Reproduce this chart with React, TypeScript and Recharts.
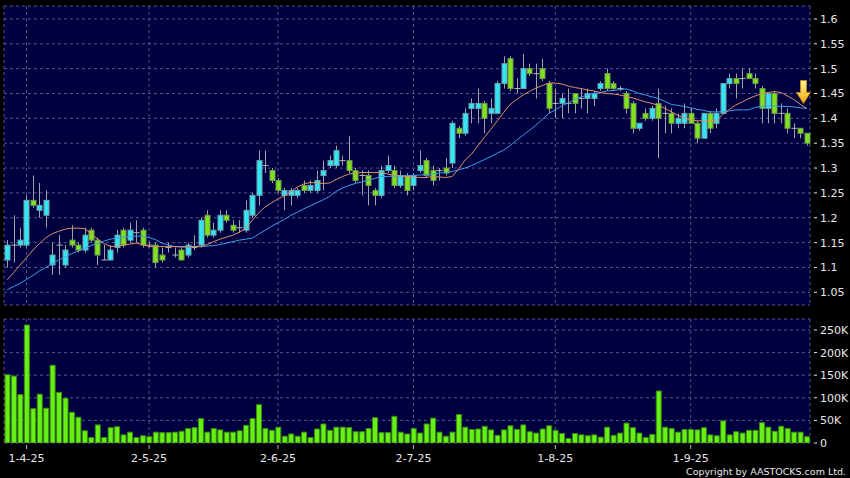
import React from 'react';
import { ComposedChart, Bar, Line, XAxis, YAxis, CartesianGrid, ReferenceDot } from 'recharts';

const NAVY = '#000040';
const GRID = '#55558c';
const TEXT = '#e6e6e6';
const CYAN = '#33e4f2';
const GREEN = '#80e11f';
const FONT = '"DejaVu Sans", Verdana, sans-serif';

// daily candles, 27-3-25 .. 25-9-25
const opens = [
  1.115, 1.145, 1.145, 1.145, 1.235, 1.215, 1.205, 1.105, 1.145, 1.105,
  1.155, 1.145, 1.135, 1.175, 1.155, 1.115, 1.115, 1.14, 1.175, 1.155,
  1.17, 1.175, 1.145, 1.145, 1.125, 1.14, 1.125, 1.135, 1.125, 1.14,
  1.145, 1.205, 1.165, 1.175, 1.205, 1.185, 1.18, 1.175, 1.205, 1.245,
  1.305, 1.295, 1.275, 1.245, 1.245, 1.245, 1.265, 1.255, 1.255, 1.285,
  1.305, 1.305, 1.315, 1.315, 1.295, 1.285, 1.285, 1.255, 1.245, 1.295,
  1.295, 1.265, 1.285, 1.265, 1.295, 1.315, 1.295, 1.295, 1.3, 1.31,
  1.38, 1.37, 1.42, 1.42, 1.43, 1.41, 1.41, 1.47, 1.52, 1.46,
  1.46, 1.5, 1.49, 1.5, 1.47, 1.43, 1.43, 1.43, 1.45, 1.44,
  1.44, 1.44, 1.46, 1.49, 1.47, 1.46, 1.45, 1.43, 1.38, 1.41,
  1.4, 1.43, 1.41, 1.41, 1.39, 1.39, 1.41, 1.39, 1.36, 1.41,
  1.39, 1.41, 1.47, 1.48, 1.48, 1.49, 1.48, 1.46, 1.42, 1.45,
  1.41, 1.41, 1.38, 1.38, 1.37,
];
const highs = [
  1.155, 1.205, 1.18, 1.245, 1.285, 1.27, 1.255, 1.15, 1.165, 1.145,
  1.185, 1.15, 1.18, 1.18, 1.16, 1.145, 1.145, 1.175, 1.18, 1.19,
  1.195, 1.18, 1.15, 1.15, 1.14, 1.15, 1.14, 1.14, 1.15, 1.165,
  1.2, 1.215, 1.19, 1.215, 1.215, 1.195, 1.195, 1.235, 1.25, 1.335,
  1.335, 1.3, 1.28, 1.26, 1.26, 1.26, 1.275, 1.275, 1.295, 1.315,
  1.325, 1.345, 1.325, 1.365, 1.3, 1.295, 1.295, 1.26, 1.305, 1.325,
  1.305, 1.295, 1.29, 1.29, 1.335, 1.32, 1.305, 1.3, 1.32, 1.395,
  1.385, 1.42, 1.44, 1.46, 1.435, 1.44, 1.475, 1.525, 1.525, 1.48,
  1.53, 1.51, 1.51, 1.52, 1.475, 1.46, 1.45, 1.46, 1.45, 1.46,
  1.46, 1.455, 1.475, 1.5, 1.475, 1.465, 1.455, 1.435, 1.39, 1.42,
  1.425, 1.46, 1.425, 1.42, 1.41, 1.43, 1.42, 1.395, 1.41, 1.415,
  1.42, 1.47, 1.49, 1.49, 1.5, 1.5, 1.49, 1.465, 1.45, 1.455,
  1.43, 1.42, 1.39, 1.38, 1.37,
];
const lows = [
  1.1, 1.11, 1.14, 1.14, 1.22, 1.2, 1.18, 1.085, 1.085, 1.1,
  1.14, 1.13, 1.13, 1.15, 1.105, 1.115, 1.115, 1.13, 1.14, 1.15,
  1.15, 1.14, 1.14, 1.1, 1.11, 1.13, 1.12, 1.115, 1.12, 1.135,
  1.14, 1.16, 1.16, 1.17, 1.19, 1.17, 1.17, 1.17, 1.2, 1.225,
  1.29, 1.27, 1.25, 1.215, 1.225, 1.24, 1.25, 1.25, 1.25, 1.255,
  1.3, 1.3, 1.305, 1.29, 1.27, 1.245, 1.225, 1.225, 1.24, 1.29,
  1.26, 1.26, 1.245, 1.255, 1.29, 1.28, 1.265, 1.275, 1.285, 1.3,
  1.36, 1.365, 1.39, 1.39, 1.37, 1.39, 1.41, 1.46, 1.455, 1.45,
  1.46, 1.485, 1.44, 1.475, 1.41, 1.4, 1.4, 1.41, 1.41, 1.42,
  1.41, 1.425, 1.455, 1.455, 1.455, 1.455, 1.41, 1.37, 1.375, 1.395,
  1.395, 1.32, 1.37, 1.37, 1.38, 1.38, 1.39, 1.35, 1.36, 1.37,
  1.38, 1.41, 1.46, 1.44, 1.46, 1.48, 1.46, 1.39, 1.39, 1.39,
  1.39, 1.37, 1.36, 1.36, 1.345,
];
const closes = [
  1.145, 1.145, 1.155, 1.235, 1.225, 1.225, 1.235, 1.125, 1.145, 1.135,
  1.145, 1.135, 1.165, 1.155, 1.125, 1.115, 1.135, 1.165, 1.145, 1.175,
  1.17, 1.145, 1.145, 1.11, 1.115, 1.14, 1.125, 1.115, 1.145, 1.14,
  1.195, 1.165, 1.175, 1.205, 1.195, 1.175, 1.18, 1.215, 1.245, 1.315,
  1.305, 1.275, 1.255, 1.255, 1.255, 1.255, 1.255, 1.265, 1.275, 1.295,
  1.315, 1.335, 1.315, 1.295, 1.275, 1.285, 1.265, 1.245, 1.295, 1.305,
  1.265, 1.285, 1.255, 1.285, 1.305, 1.285, 1.275, 1.295, 1.29, 1.39,
  1.37, 1.41, 1.43, 1.43, 1.4, 1.42, 1.47, 1.51, 1.46, 1.46,
  1.5, 1.49, 1.49, 1.48, 1.42, 1.43, 1.44, 1.43, 1.43, 1.44,
  1.45, 1.45, 1.47, 1.46, 1.46, 1.46, 1.42, 1.38, 1.39, 1.4,
  1.42, 1.4, 1.41, 1.39, 1.4, 1.41, 1.39, 1.36, 1.41, 1.38,
  1.41, 1.47, 1.48, 1.47, 1.48, 1.48, 1.47, 1.42, 1.45, 1.41,
  1.41, 1.38, 1.38, 1.37, 1.35,
];
// moving averages as drawn (orange 10-day, blue 20-day)
const ma10 = [
  1.075, 1.09, 1.105, 1.12, 1.135, 1.148, 1.16, 1.168, 1.173, 1.177,
  1.179, 1.179, 1.178, 1.168, 1.157, 1.148, 1.142, 1.143, 1.145, 1.147,
  1.149, 1.146, 1.142, 1.142, 1.142, 1.142, 1.142, 1.142, 1.142, 1.142,
  1.142, 1.146, 1.152, 1.157, 1.161, 1.165, 1.171, 1.179, 1.195, 1.21,
  1.222, 1.23, 1.238, 1.244, 1.252, 1.262, 1.268, 1.271, 1.27, 1.269,
  1.27, 1.277, 1.283, 1.288, 1.29, 1.291, 1.291, 1.291, 1.291, 1.288,
  1.285, 1.284, 1.283, 1.282, 1.281, 1.281, 1.283, 1.282, 1.281, 1.283,
  1.298, 1.316, 1.328, 1.345, 1.362, 1.378, 1.395, 1.412, 1.428, 1.438,
  1.447, 1.454, 1.461, 1.466, 1.471, 1.471, 1.469, 1.465, 1.462, 1.46,
  1.457, 1.455, 1.452, 1.45, 1.449, 1.447, 1.444, 1.441, 1.437, 1.433,
  1.43, 1.426, 1.42, 1.413, 1.406, 1.401, 1.397, 1.395, 1.395, 1.395,
  1.395, 1.408, 1.418, 1.427, 1.433, 1.44, 1.445, 1.45, 1.452, 1.454,
  1.452, 1.445, 1.438, 1.428, 1.42,
];
const ma20 = [
  1.055, 1.062, 1.068, 1.076, 1.084, 1.093, 1.1, 1.108, 1.115, 1.121,
  1.128, 1.133, 1.139, 1.144, 1.148, 1.153, 1.157, 1.159, 1.161, 1.162,
  1.163, 1.163, 1.16, 1.156, 1.149, 1.145, 1.142, 1.141, 1.141, 1.142,
  1.142, 1.143, 1.144, 1.146, 1.149, 1.152, 1.155, 1.157, 1.159, 1.167,
  1.175, 1.183, 1.19, 1.197, 1.205, 1.211, 1.218, 1.224, 1.23, 1.236,
  1.243, 1.253, 1.26, 1.265, 1.269, 1.272, 1.276, 1.279, 1.283, 1.283,
  1.284, 1.284, 1.285, 1.285, 1.286, 1.287, 1.288, 1.29, 1.291, 1.293,
  1.296, 1.3, 1.305, 1.311, 1.317, 1.323, 1.33, 1.336, 1.345, 1.356,
  1.366, 1.376, 1.386, 1.398, 1.41, 1.417, 1.425, 1.431, 1.438, 1.443,
  1.447, 1.45, 1.452, 1.455, 1.456, 1.458, 1.459, 1.455, 1.45, 1.447,
  1.443, 1.44, 1.434, 1.428, 1.426, 1.424, 1.421, 1.418, 1.416, 1.413,
  1.413, 1.413, 1.415, 1.417, 1.417, 1.417, 1.422, 1.424, 1.425, 1.425,
  1.424, 1.424, 1.423, 1.421, 1.42,
];
// volume, thousands of shares
const volumes = [
  151, 148, 107, 261, 76, 108, 77, 172, 112, 99,
  68, 57, 27, 12, 40, 12, 34, 36, 18, 24,
  12, 16, 14, 24, 23, 23, 24, 26, 32, 34,
  54, 24, 32, 29, 24, 24, 27, 39, 54, 85,
  32, 28, 35, 15, 20, 15, 24, 12, 31, 42,
  28, 35, 35, 34, 25, 25, 32, 56, 23, 23,
  59, 24, 20, 32, 22, 42, 55, 24, 15, 24,
  63, 35, 30, 31, 37, 29, 17, 29, 38, 30,
  40, 25, 22, 31, 38, 28, 21, 10, 21, 18,
  16, 18, 13, 35, 17, 22, 44, 34, 22, 12,
  19, 115, 35, 32, 24, 30, 30, 29, 34, 18,
  16, 49, 18, 25, 22, 28, 28, 45, 35, 26,
  37, 32, 24, 24, 14,
];

const monthTickIdx = [3, 22, 42, 63, 85, 106];
const monthTickLabels = ['1-4-25', '2-5-25', '2-6-25', '2-7-25', '1-8-25', '1-9-25'];
const priceTicks = [1.05, 1.1, 1.15, 1.2, 1.25, 1.3, 1.35, 1.4, 1.45, 1.5, 1.55, 1.6];
const volumeTicks = [0, 50, 100, 150, 200, 250];
const arrowPrice = 1.43;

const data = opens.map((o, i) => ({
  i,
  o,
  h: highs[i],
  l: lows[i],
  c: closes[i],
  range: [lows[i], highs[i]],
  ma10: ma10[i],
  ma20: ma20[i],
  vol: volumes[i],
}));

function Candle(props: any) {
  const { x, y, width, height, payload } = props;
  const { o, h, l, c } = payload;
  const cx = Math.round(x + width / 2) + 0.5;
  const top = Math.min(y, y + height);
  const span = Math.abs(height);
  const yOf = (v: number) => top + ((h - v) / (h - l)) * span;
  const yo = yOf(o);
  const yc = yOf(c);
  const wick = <line x1={cx} x2={cx} y1={top} y2={top + span} stroke="#a2a2a2" />;
  if (o === c) {
    return (
      <g>
        {wick}
        <line x1={cx - 3} x2={cx + 3} y1={yo} y2={yo} stroke="#b4b4b4" />
      </g>
    );
  }
  const up = c > o;
  const bt = Math.min(yo, yc);
  const bh = Math.max(Math.abs(yo - yc), 1);
  return (
    <g>
      {wick}
      <rect x={cx - 2.5} y={bt} width={5} height={bh} fill={up ? CYAN : GREEN} stroke={up ? '#6aa4ad' : '#6c9a4a'} />
    </g>
  );
}

function Arrow({ cx, cy }: any) {
  const x = cx - 3.3;
  return (
    <g>
      <defs>
        <linearGradient id="arrowFill" x1="0" y1="0" x2="0" y2="1">
          <stop offset="0" stopColor="#fff3a0" />
          <stop offset="1" stopColor="#f2a900" />
        </linearGradient>
      </defs>
      <path
        d={`M${x - 3},${cy - 23} h6 v12 h4 l-7,11 l-7,-11 h4 z`}
        fill="url(#arrowFill)"
        stroke="#c98c00"
        strokeWidth={0.8}
      />
    </g>
  );
}

function SideTick({ x, y, payload, fmt }: any) {
  return (
    <g>
      <line x1={x + 4} x2={x + 7} y1={y} y2={y} stroke={TEXT} />
      <text x={x + 10} y={y + 4} fill={TEXT} fontSize={11} fontFamily={FONT}>
        {fmt(payload.value)}
      </text>
    </g>
  );
}

function DateTick({ x, y, payload }: any) {
  const k = monthTickIdx.indexOf(payload.value);
  if (k < 0) return <g />;
  return (
    <g>
      <line x1={x} x2={x} y1={y + 2} y2={y + 6} stroke="#bbbbbb" />
      <text x={x} y={y + 19} textAnchor="middle" fill={TEXT} fontSize={11} fontFamily={FONT}>
        {monthTickLabels[k]}
      </text>
    </g>
  );
}

const fmtPrice = (v: number) => String(Number(v.toFixed(2)));
const fmtVol = (v: number) => (v === 0 ? '0' : `${v}K`);

export default function App() {
  return (
    <div style={{ position: 'absolute', left: 0, top: 0, width: 850, height: 478, background: '#000', overflow: 'hidden' }}>
      <div style={{ position: 'absolute', left: 0, top: 0 }}>
        <ComposedChart width={850} height={310} data={data} margin={{ top: 6, right: 0, bottom: 5, left: 4 }}>
          <CartesianGrid stroke={GRID} strokeDasharray="3 3" fill={NAVY} fillOpacity={1} />
          <XAxis dataKey="i" type="category" ticks={monthTickIdx} interval={0} hide />
          <YAxis
            orientation="right"
            width={40}
            domain={[1.0245, 1.626]}
            ticks={priceTicks}
            allowDataOverflow
            interval={0}
            axisLine={false}
            tickLine={false}
            tickSize={0}
            tickMargin={0}
            tick={(p: any) => <SideTick {...p} fmt={fmtPrice} />}
          />
          <Bar dataKey="range" shape={Candle} isAnimationActive={false} />
          <Line type="linear" dataKey="ma20" stroke="#3c9fe8" strokeWidth={1} dot={false} isAnimationActive={false} />
          <Line type="linear" dataKey="ma10" stroke="#dc9066" strokeWidth={1} dot={false} isAnimationActive={false} />
          <ReferenceDot x={124} y={arrowPrice} r={0} shape={Arrow} ifOverflow="visible" />
        </ComposedChart>
      </div>
      <div style={{ position: 'absolute', left: 0, top: 310 }}>
        <ComposedChart width={850} height={168} data={data} margin={{ top: 9, right: 0, bottom: 0, left: 4 }}>
          <CartesianGrid stroke={GRID} strokeDasharray="3 3" fill={NAVY} fillOpacity={1} />
          <XAxis
            dataKey="i"
            type="category"
            ticks={monthTickIdx}
            height={35}
            interval={0}
            axisLine={false}
            tickLine={false}
            tickSize={0}
            tickMargin={0}
            tick={(p: any) => <DateTick {...p} />}
          />
          <YAxis
            orientation="right"
            width={40}
            domain={[0, 274.3]}
            ticks={volumeTicks}
            allowDataOverflow
            interval={0}
            axisLine={false}
            tickLine={false}
            tickSize={0}
            tickMargin={0}
            tick={(p: any) => <SideTick {...p} fmt={fmtVol} />}
          />
          <Bar dataKey="vol" fill="#66f016" stroke="#3a8a0c" strokeWidth={1} barSize={5} isAnimationActive={false} />
        </ComposedChart>
      </div>
      <div
        style={{
          position: 'absolute',
          right: 4,
          top: 466,
          color: TEXT,
          fontFamily: FONT,
          fontSize: 9.5,
          lineHeight: '11px',
          whiteSpace: 'nowrap',
        }}
      >
        Copyright by AASTOCKS.com Ltd.
      </div>
    </div>
  );
}
